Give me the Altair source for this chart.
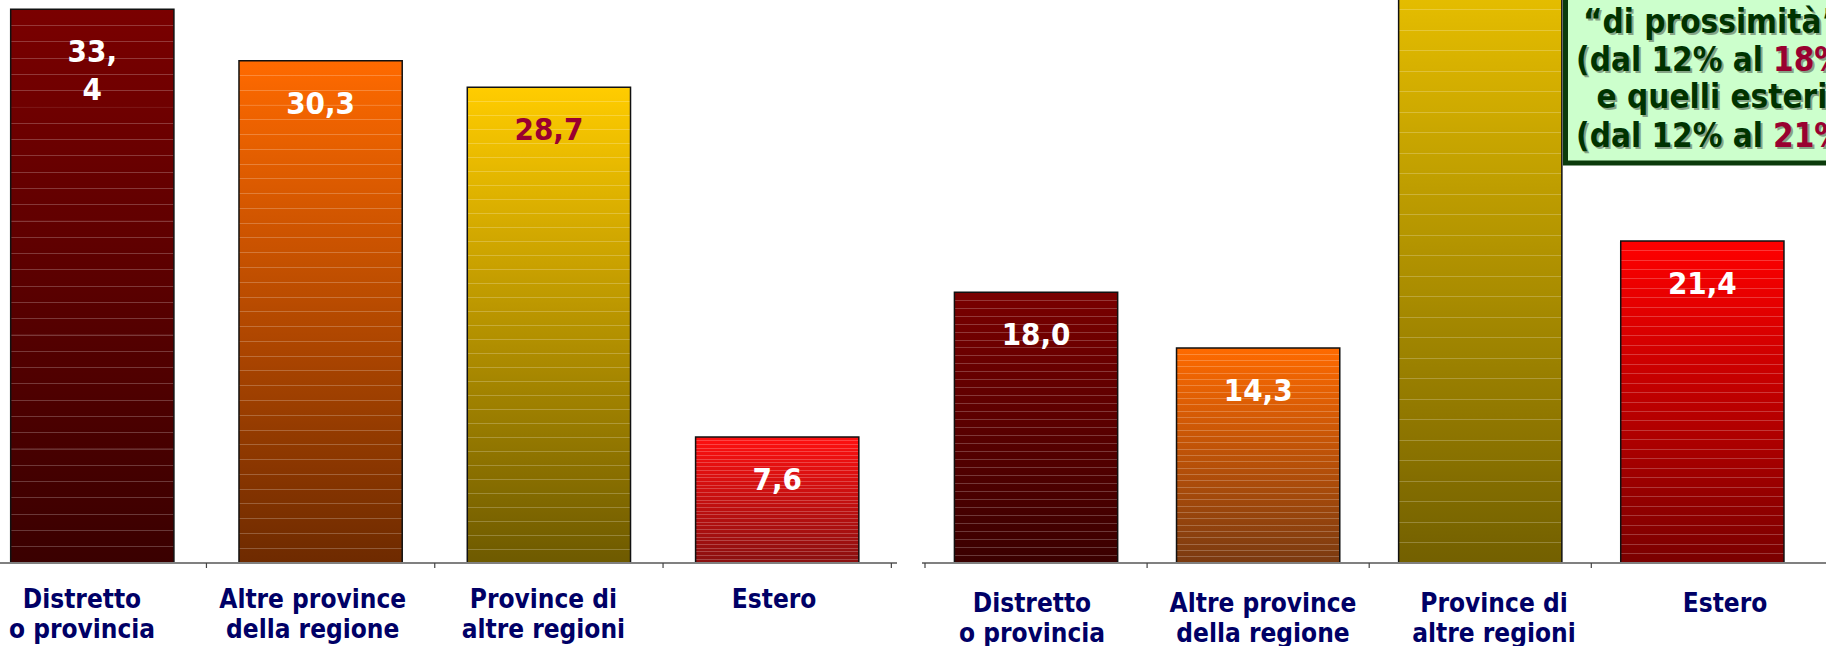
import altair as alt
import pandas as pd

# ---- data ----
categories = ["Distretto\no provincia", "Altre province\ndella regione",
              "Province di\naltre regioni", "Estero"]
left_values = [33.4, 30.3, 28.7, 7.6]
right_values = [18.0, 14.3, 46.3, 21.4]
left_labels = ["33,\n4", "30,3", "28,7", "7,6"]
right_labels = ["18,0", "14,3", "46,3", "21,4"]
box_lines = ["\u201cdi prossimit\u00e0\u201d", "(dal 12% al", "e quelli esteri", "(dal 12% al"]
box_highlights = ["18%", "21%"]

# ---- styles / layout ----
FONT = "DejaVu Sans Condensed, DejaVu Sans"
W = 1826
H = 563
LEFT_RANGE = [-21.85, 891.35]      # bar band scale (pixels)
RIGHT_RANGE = [925, 1813.4]
LEFT_LABEL_RANGE = [-33.35, 889.45]  # category-label band scale (pixels)
RIGHT_LABEL_RANGE = [916.5, 1840.5]
LEFT_AXIS = (0, 897)
RIGHT_AXIS = (922, W)
LEFT_MAX = 33.96
RIGHT_MAX = 37.43
WHITE = "#ffffff"
DARKRED = "#990030"
NAVY = "#000066"

left_grads = [("#7A0000", "#3A0000"), ("#FF6A00", "#6E2A00"),
              ("#FFCC00", "#6E5A00"), ("#FF1010", "#8A1010")]
right_grads = [("#7A0000", "#3A0000"), ("#FF6A00", "#7A3A10"),
               ("#FFD200", "#736000"), ("#FF0000", "#7A0000")]
left_label_colors = [WHITE, WHITE, DARKRED, WHITE]
right_label_colors = [WHITE, WHITE, DARKRED, WHITE]


def _hex(c):
    c = c.lstrip("#")
    return [int(c[i:i + 2], 16) for i in (0, 2, 4)]


def _mix(a, b, t):
    return "#" + "".join("%02x" % int(round(x + (y - x) * t)) for x, y in zip(a, b))


def striped_gradient(top, bot, bar_px, n=34, light=0.22):
    """Vertical gradient with thin lighter horizontal stripes (slide-style fill)."""
    a, b = _hex(top), _hex(bot)
    th = max(1.0 / max(bar_px, 1), 0.0015)
    stops = [alt.GradientStop(offset=0, color=_mix(a, b, 0))]
    for k in range(1, n):
        o = k / n
        base = _mix(a, b, o)
        lt = _mix(_hex(base), [255, 255, 255], light)
        stops += [alt.GradientStop(offset=round(o - th * 0.5, 5), color=base),
                  alt.GradientStop(offset=round(o - th * 0.5 + 0.00001, 5), color=lt),
                  alt.GradientStop(offset=round(o + th * 0.5, 5), color=lt),
                  alt.GradientStop(offset=round(o + th * 0.5 + 0.00001, 5), color=base)]
    stops.append(alt.GradientStop(offset=1, color=_mix(a, b, 1)))
    return alt.Gradient(gradient="linear", x1=0, x2=0, y1=0, y2=1, stops=stops)


def panel(values, labels, label_colors, grads, ymax, xrange, bar_frac, tick_band, axis_span,
          extra=()):
    df = pd.DataFrame({"cat": categories, "value": values, "label": labels, "lc": label_colors})
    xs = alt.Scale(domain=categories, range=xrange, paddingInner=0, paddingOuter=0)
    ys = alt.Scale(domain=[0, ymax], nice=False, zero=True)
    X = alt.X("cat:N", scale=xs, axis=None, sort=categories)
    Y = alt.Y("value:Q", scale=ys, axis=None)
    base = alt.Chart(df)
    layers = []
    for cat, v, (top, bot) in zip(categories, values, grads):
        grad = striped_gradient(top, bot, v * H / ymax)
        layers.append(
            base.transform_filter(alt.FieldEqualPredicate(field="cat", equal=cat))
            .mark_bar(width=alt.RelativeBandSize(bar_frac), fill=grad, stroke="#111111",
                      strokeWidth=1.5, clip=True)
            .encode(x=X, y=Y)
        )
    baseline = alt.Chart(pd.DataFrame({"v": [0]})).mark_rule(
        color="#808080", strokeWidth=2).encode(
        x=alt.value(axis_span[0]), x2=alt.value(axis_span[1]), y=alt.value(H))
    ticks = base.mark_rule(color="#444444", strokeWidth=1.2).encode(
        x=alt.X("cat:N", scale=xs, axis=None, sort=categories, bandPosition=tick_band),
        y=alt.value(H), y2=alt.value(H + 5))
    text = base.mark_text(font=FONT, fontSize=31, fontWeight="bold", baseline="alphabetic",
                          align="center", dy=53, lineBreak="\n", lineHeight=38, clip=True).encode(
        x=X, y=Y, text="label:N", color=alt.Color("lc:N", scale=None))
    return alt.layer(*layers, baseline, ticks, text, *extra)


def category_labels(label_range, y):
    df = pd.DataFrame({"cat": categories})
    xs = alt.Scale(domain=categories, range=label_range, paddingInner=0, paddingOuter=0)
    return alt.Chart(df).mark_text(font=FONT, fontSize=26, fontWeight="bold", color=NAVY,
                                   baseline="alphabetic", align="center", lineBreak="\n",
                                   lineHeight=30).encode(
        x=alt.X("cat:N", scale=xs, axis=None, sort=categories),
        y=alt.value(y), text="cat:N")


# ---- annotation box (top right) ----
one = pd.DataFrame({"v": [0]})
BOX_GREEN = "#003300"
SHADOW = "#86A386"
box = alt.Chart(one).mark_rect(fill="#CCFFCC", stroke="#0B3A0B", strokeWidth=5, clip=True).encode(
    x=alt.value(1565.5), x2=alt.value(W + 80), y=alt.value(-20), y2=alt.value(163))

line_y = [33, 71, 108, 147]
CX = 1712
SPLIT = 1773
GAP = 10


def txt(s, x, y, color, align, dx=0, dy=0):
    return alt.Chart(one).mark_text(text=s, font=FONT, fontSize=33, fontWeight="bold",
                                    baseline="alphabetic", align=align, color=color,
                                    dx=dx, dy=dy, clip=True).encode(
        x=alt.value(x), y=alt.value(y))


box_text = []
for i, line in enumerate(box_lines):
    if i in (0, 2):
        box_text.append(txt(line, CX, line_y[i], SHADOW, "center", 2, 2))
        box_text.append(txt(line, CX, line_y[i], BOX_GREEN, "center"))
    else:
        hl = box_highlights[0 if i == 1 else 1]
        box_text.append(txt(line, SPLIT - GAP, line_y[i], SHADOW, "right", 2, 2))
        box_text.append(txt(line, SPLIT - GAP, line_y[i], BOX_GREEN, "right"))
        box_text.append(txt(hl, SPLIT, line_y[i], SHADOW, "left", 2, 2))
        box_text.append(txt(hl, SPLIT, line_y[i], DARKRED, "left"))

left = panel(left_values, left_labels, left_label_colors, left_grads,
             LEFT_MAX, LEFT_RANGE, 0.715, 1, LEFT_AXIS)
right = panel(right_values, right_labels, right_label_colors, right_grads,
              RIGHT_MAX, RIGHT_RANGE, 0.735, 0, RIGHT_AXIS, extra=[box] + box_text)
left_cat = category_labels(LEFT_LABEL_RANGE, 608)
right_cat = category_labels(RIGHT_LABEL_RANGE, 612)

chart = alt.layer(left, left_cat, right, right_cat).resolve_scale(
    x="independent", y="independent").properties(
    width=W, height=H, autosize=alt.AutoSizeParams(type="none"),
    padding={"left": 0, "top": 0, "right": 0, "bottom": 646 - H},
    background="white").configure_view(stroke=None)

chart.save("out.html", embed_options={"renderer": "svg", "actions": False})
